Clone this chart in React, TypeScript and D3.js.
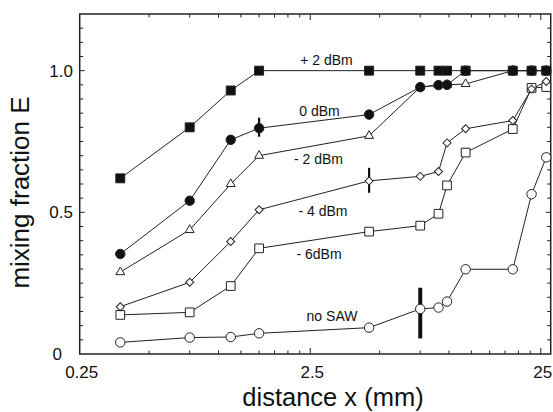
import React from 'react'
import * as d3 from 'd3'

// distances (mm) where samples were taken
const distance = [0.375, 0.75, 1.13, 1.5, 4.5, 7.5, 9.0, 9.8, 11.8, 18.9, 22.8, 26.4]

// mixing fraction E for each SAW power
const plus2 = [0.62, 0.8, 0.93, 1.0, 1.0, 1.0, 1.0, 1.0, 1.0, 1.0, 1.0, 1.0]
const zero = [0.353, 0.541, 0.756, 0.797, 0.845, 0.942, 0.949, 0.95, 1.0, 1.0, 1.0, 1.0]
const minus2 = [0.289, 0.438, 0.6, 0.7, 0.77, 0.942, 0.949, 0.95, 0.953, 1.0, 1.0, 1.0]
const minus4 = [0.167, 0.253, 0.397, 0.509, 0.611, 0.627, 0.644, 0.745, 0.795, 0.824, 0.935, 0.962]
const minus6 = [0.138, 0.147, 0.24, 0.373, 0.432, 0.453, 0.495, 0.595, 0.711, 0.794, 0.939, 0.942]
const noSaw = [0.041, 0.058, 0.06, 0.073, 0.093, 0.159, 0.164, 0.185, 0.299, 0.299, 0.564, 0.694]

const seriesNames = ['no SAW', '- 6dBm', '- 4 dBm', '- 2 dBm', '0 dBm', '+ 2 dBm']
const seriesValues = [noSaw, minus6, minus4, minus2, zero, plus2]

// error bars: distance, low, high
const errX = [1.5, 4.5, 7.5]
const errLo = [0.767, 0.569, 0.055]
const errHi = [0.834, 0.657, 0.234]

const yTickLabels = [0, 0.5, 1.0]
const xTickLabels = ['0.25', '2.5', '25']

const W = 553
const H = 412
const left = 79.7
const right = 550.7
const top = 14
const bottom = 354

const font = '"Liberation Sans", Arial, Helvetica, sans-serif'

// marker style per series (same order as seriesNames)
const markerStyle: { type: d3.SymbolType; size: number; filled: boolean; rotate: number }[] = [
    { type: d3.symbolCircle, size: 70, filled: false, rotate: 0 },
    { type: d3.symbolSquare, size: 76, filled: false, rotate: 0 },
    { type: d3.symbolSquare, size: 32, filled: false, rotate: 45 },
    { type: d3.symbolTriangle, size: 34, filled: false, rotate: 0 },
    { type: d3.symbolCircle, size: 70, filled: true, rotate: 0 },
    { type: d3.symbolSquare, size: 80, filled: true, rotate: 0 },
]

// where each series name sits (pixels, text middle / baseline)
const labelPos = [
    [332, 320.5],
    [319, 259],
    [323, 216],
    [318.5, 164],
    [319.5, 115.5],
    [326.5, 65],
]

const errWidth = [2.2, 2.2, 4]

export default function App() {
    const x = d3.scaleLog().domain([0.25, 27.6]).range([left, right])
    const y = d3.scaleLinear().domain([0, 1.2]).range([bottom, top])

    const line = d3
        .line<number>()
        .x((_, i) => x(distance[i]))
        .y((d) => y(d))

    // log minor ticks: 0.25*n and 2.5*n
    const xTicks: { v: number; major: boolean }[] = []
    for (let n = 2; n <= 10; n++) xTicks.push({ v: 0.25 * n, major: n === 10 })
    for (let n = 2; n <= 10; n++) xTicks.push({ v: 2.5 * n, major: n === 10 })

    const yTicks = d3.range(1, 24).map((k) => ({ v: k * 0.05, major: k % 10 === 0 }))

    return (
        <svg width={W} height={H} style={{ position: 'absolute', left: 0, top: 0, background: '#fff' }} fontFamily={font}>
            {/* ticks */}
            <g stroke="#222" strokeWidth={1}>
                {xTicks.map((t, i) => (
                    <g key={'xt' + i}>
                        <line x1={x(t.v)} x2={x(t.v)} y1={bottom} y2={bottom - (t.major ? 6 : 3.5)} />
                        <line x1={x(t.v)} x2={x(t.v)} y1={top} y2={top + (t.major ? 6 : 3.5)} />
                    </g>
                ))}
                {yTicks.map((t, i) => (
                    <g key={'yt' + i}>
                        <line x1={left} x2={left + (t.major ? 5 : 3.5)} y1={y(t.v)} y2={y(t.v)} />
                        <line x1={right} x2={right - (t.major ? 5 : 3.5)} y1={y(t.v)} y2={y(t.v)} />
                    </g>
                ))}
            </g>

            {/* frame */}
            <rect x={left} y={top} width={right - left} height={bottom - top} fill="none" stroke="#222" strokeWidth={1.5} />

            {/* tick labels */}
            <g fontSize={17} fill="#111">
                {yTickLabels.map((v) => (
                    <text key={'yl' + v} x={v === 0 ? 62 : 73} y={y(v)} dy="0.35em" textAnchor="end">
                        {v === 0 ? '0' : v.toFixed(1)}
                    </text>
                ))}
                {xTickLabels.map((s) => (
                    <text key={'xl' + s} x={x(+s) + 2} y={378} textAnchor="middle">
                        {s}
                    </text>
                ))}
            </g>

            {/* series lines */}
            <g fill="none" stroke="#222" strokeWidth={1}>
                {seriesValues.map((vals, i) => (
                    <path key={'l' + i} d={line(vals) || ''} />
                ))}
            </g>

            {/* error bars */}
            <g stroke="#111">
                {errX.map((v, i) => (
                    <line key={'e' + i} x1={x(v)} x2={x(v)} y1={y(errLo[i])} y2={y(errHi[i])} strokeWidth={errWidth[i]} />
                ))}
            </g>

            {/* markers */}
            {seriesValues.map((vals, i) => {
                const m = markerStyle[i]
                const path = d3.symbol().type(m.type).size(m.size)() || ''
                return (
                    <g key={'m' + i}>
                        {vals.map((v, j) => (
                            <path
                                key={j}
                                d={path}
                                transform={`translate(${x(distance[j])},${y(v)}) rotate(${m.rotate})`}
                                fill={m.filled ? '#111' : '#fff'}
                                stroke="#222"
                                strokeWidth={1}
                            />
                        ))}
                    </g>
                )
            })}

            {/* series names */}
            <g fontSize={14} fill="#111">
                {seriesNames.map((s, i) => (
                    <text key={'n' + i} x={labelPos[i][0]} y={labelPos[i][1]} textAnchor="middle">
                        {s}
                    </text>
                ))}
            </g>

            {/* axis titles */}
            <text x={333} y={406} fontSize={25.5} textAnchor="middle" fill="#111">
                distance  x (mm)
            </text>
            <text transform="translate(29,192.5) rotate(-90)" fontSize={26} textAnchor="middle" fill="#111">
                mixing fraction E
            </text>
        </svg>
    )
}
